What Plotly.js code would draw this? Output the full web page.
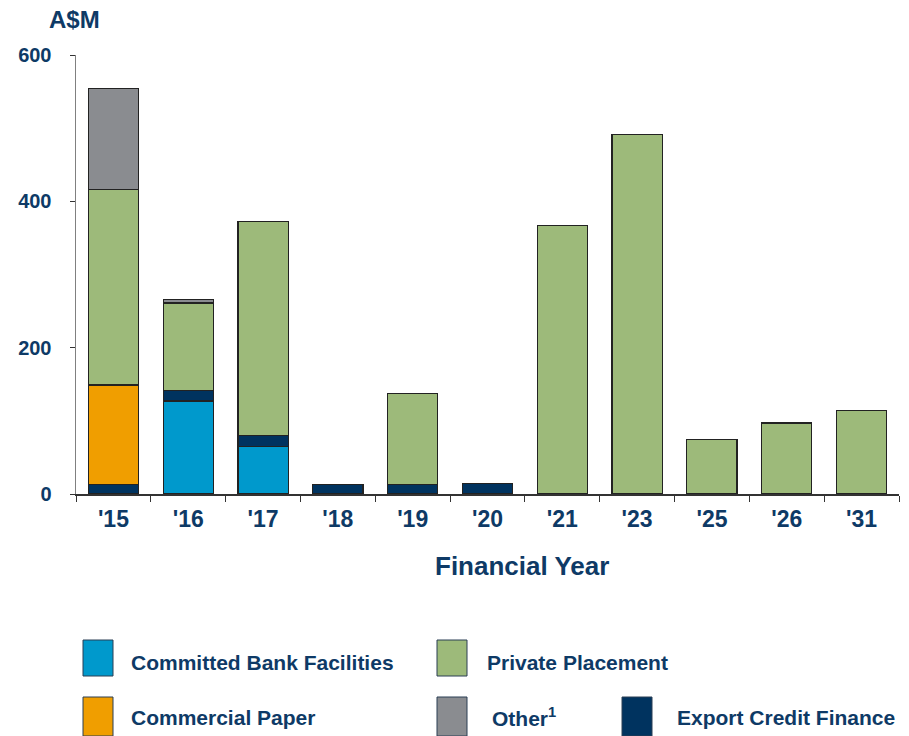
<!DOCTYPE html>
<html>
<head>
<meta charset="utf-8">
<script src="https://cdn.plot.ly/plotly-3.0.1.min.js"></script>
<style>html,body{margin:0;padding:0;background:#fff;}#chart{width:909px;height:736px;}</style>
</head>
<body>
<div id="chart"></div>
<script>
const years = ["'15","'16","'17","'18","'19","'20","'21","'23","'25","'26","'31"];
const committedBank = [null,127,65,null,null,null,null,null,null,null,null];
const exportCredit = [13,14,15,13,13,14,null,null,null,null,null];
const commercialPaper = [136,null,null,null,null,null,null,null,null,null,null];
const privatePlacement = [267,120,292,null,124,null,367,491,74,97,114];
const other = [138,5,null,null,null,null,null,null,null,null,null];

const seriesNames = ["Committed Bank Facilities","Export Credit Finance","Commercial Paper","Private Placement","Other¹"];
const seriesValues = [committedBank, exportCredit, commercialPaper, privatePlacement, other];
const seriesColors = ["#0099CC","#00335F","#F09E00","#9DBA7A","#8A8C90"];

const navy = "#0E3A66";
const font = "Liberation Sans, Arial, sans-serif";

const traces = seriesNames.map((n,i)=>({
  type:"bar", name:n, x:years, y:seriesValues[i],
  marker:{color:seriesColors[i], line:{color:"#222", width:1.2}},
  showlegend:false, hoverinfo:"x+y+name"
}));

// legend (custom, tall swatches)
const L = 76, R = 899, T = 55, B = 494;
const px = v => (v - L)/(R - L);
const py = v => (B - v)/(B - T);
const legendItems = [
  {name:"Committed Bank Facilities", color:seriesColors[0], sx:83, tx:129, row:0},
  {name:"Private Placement", color:seriesColors[3], sx:437, tx:485, row:0},
  {name:"Commercial Paper", color:seriesColors[2], sx:83, tx:129, row:1},
  {name:"Other<sup>1</sup>", color:seriesColors[4], sx:437, tx:490, row:1},
  {name:"Export Credit Finance", color:seriesColors[1], sx:622, tx:675, row:1}
];
const rows = [{top:640, bot:676, cy:662},{top:697, bot:736, cy:717}];
const shapes = legendItems.map(it=>({
  type:"rect", xref:"paper", yref:"paper",
  x0:px(it.sx), x1:px(it.sx+30), y0:py(rows[it.row].bot), y1:py(rows[it.row].top),
  fillcolor:it.color, line:{color:"#2a3f55", width:1}
}));
const annotations = legendItems.map(it=>({
  xref:"paper", yref:"paper", x:px(it.tx), y:py(rows[it.row].cy),
  xanchor:"left", yanchor:"middle", showarrow:false,
  text:"<b>"+it.name+"</b>", font:{family:font, size:21, color:navy}
}));
annotations.push({
  xref:"paper", yref:"paper", x:px(47), y:py(20), xanchor:"left", yanchor:"middle",
  showarrow:false, text:"<b>A$M</b>", font:{family:font, size:24, color:navy}
});
annotations.push({
  xref:"paper", yref:"paper", x:px(522), y:py(566), xanchor:"center", yanchor:"middle",
  showarrow:false, text:"<b>Financial Year</b>", font:{family:font, size:26, color:navy}
});

const layout = {
  width:909, height:736,
  margin:{l:L, r:909-R, t:T, b:736-B},
  paper_bgcolor:"#fff", plot_bgcolor:"#fff",
  barmode:"stack", bargap:0.33,
  font:{family:font, color:navy},
  xaxis:{
    type:"category", showgrid:false, zeroline:false,
    showline:true, linecolor:"#333", linewidth:1.5,
    ticks:"outside", tickson:"boundaries", ticklen:6, tickcolor:"#333",
    tickfont:{family:font, size:23, color:navy, weight:"bold"},
    ticklabelstandoff:4,
    automargin:false
  },
  yaxis:{
    range:[0,600], tickvals:[0,200,400,600], showgrid:false, zeroline:false,
    showline:true, linecolor:"#808080", linewidth:1.5,
    ticks:"outside", ticklen:5, tickcolor:"#333",
    tickfont:{family:font, size:20, color:navy, weight:"bold"},
    tickformat:"d", ticklabelstandoff:14,
    automargin:false
  },
  shapes:shapes, annotations:annotations
};

Plotly.newPlot("chart", traces, layout, {displayModeBar:false, staticPlot:true});
</script>
</body>
</html>
